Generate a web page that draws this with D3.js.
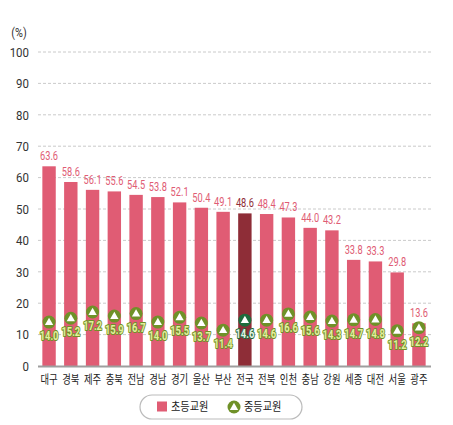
<!DOCTYPE html>
<html><head><meta charset="utf-8">
<script src="https://cdn.jsdelivr.net/npm/d3@7"></script>
<style>
body{margin:0;background:#fff;}
svg{display:block;}
text{font-family:"Noto Sans CJK KR","Noto Sans",sans-serif;}
.num{font-family:"Roboto","Noto Sans",sans-serif;}
</style></head>
<body>
<svg id="c" width="453" height="425"></svg>
<script>
const categories = ["대구","경북","제주","충북","전남","경남","경기","울산","부산","전국","전북","인천","충남","강원","세종","대전","서울","광주"];
const elementary = [63.6,58.6,56.1,55.6,54.5,53.8,52.1,50.4,49.1,48.6,48.4,47.3,44.0,43.2,33.8,33.3,29.8,13.6];
const secondary = [14.0,15.2,17.2,15.9,16.7,14.0,15.5,13.7,11.4,14.6,14.6,16.6,15.6,14.3,14.7,14.8,11.2,12.2];
const yTicks = [0,10,20,30,40,50,60,70,80,90,100];
const seriesNames = ["초등교원","중등교원"];
const highlight = "전국";

const svg = d3.select("#c");
const x = d3.scaleBand().domain(categories).range([38,430]).paddingInner(0.384).paddingOuter(0.2);
const y = d3.scaleLinear().domain([0,100]).range([366,52]);
const cx = d => x(d) + x.bandwidth()/2;

// gridlines
svg.append("g").selectAll("line").data(yTicks.filter(d=>d>0)).join("line")
  .attr("x1",38).attr("x2",431).attr("y1",d=>y(d)).attr("y2",d=>y(d))
  .attr("stroke","#bdbdbd").attr("stroke-width",0.8).attr("stroke-dasharray","3,2");

// y labels
svg.append("g").selectAll("text").data(yTicks).join("text").attr("class","num")
  .attr("transform",d=>`translate(29,${y(d)}) scale(0.85,1)`)
  .attr("dy","0.35em").attr("text-anchor","end")
  .attr("font-size",13.5).attr("fill","#333").text(d=>d);
svg.append("text").attr("class","num").attr("transform","translate(19,33) scale(0.9,1)").attr("dy","0.35em").attr("text-anchor","middle")
  .attr("font-size",12).attr("fill","#333").text("(%)");

// bars
svg.append("g").selectAll("rect").data(categories).join("rect")
  .attr("x",d=>x(d)).attr("width",x.bandwidth())
  .attr("y",(d,i)=>y(elementary[i])).attr("height",(d,i)=>y(0)-y(elementary[i]))
  .attr("fill",d=>d===highlight?"#8e2d37":"#e05c74");

// baseline
svg.append("line").attr("x1",38).attr("x2",431).attr("y1",y(0)+0.5).attr("y2",y(0)+0.5)
  .attr("stroke","#9e9e9e").attr("stroke-width",2);

// bar labels
svg.append("g").selectAll("text").data(categories).join("text").attr("class","num")
  .attr("transform",(d,i)=>`translate(${cx(d)},${y(elementary[i])-6}) scale(0.74,1)`)
  .attr("text-anchor","middle").attr("font-size",12.5)
  .attr("fill",d=>d===highlight?"#8e2d37":"#e05c74")
  .text((d,i)=>elementary[i].toFixed(1));

// markers
const mk = svg.append("g").selectAll("g").data(categories).join("g")
  .attr("transform",(d,i)=>`translate(${cx(d)},${y(secondary[i])})`);
mk.append("circle").attr("r",6.5).attr("fill",d=>d===highlight?"#1e6b3c":"#6f9128");
mk.append("path").attr("d",d3.symbol(d3.symbolTriangle,30)()).attr("transform","translate(0,0.5)").attr("fill","#fff");

// marker labels
svg.append("g").selectAll("text").data(categories).join("text").attr("class","num")
  .attr("transform",(d,i)=>`translate(${cx(d)},${y(secondary[i])+18}) scale(0.72,1)`)
  .attr("text-anchor","middle").attr("font-size",13).attr("font-weight","bold")
  .attr("fill",d=>d===highlight?"#e4f1e6":"#e3ee9e")
  .attr("stroke",d=>d===highlight?"#1e6b3c":"#6f9128").attr("stroke-width",2.2)
  .attr("paint-order","stroke").attr("stroke-linejoin","round")
  .text((d,i)=>secondary[i].toFixed(1));

// x labels
svg.append("g").selectAll("text").data(categories).join("text")
  .attr("transform",d=>`translate(${cx(d)},380) scale(0.78,1)`).attr("dy","0.35em")
  .attr("text-anchor","middle").attr("font-size",12).attr("fill","#222").text(d=>d);

// legend
const lg = svg.append("g");
lg.append("rect").attr("x",140).attr("y",395).attr("width",162).attr("height",24).attr("rx",12)
  .attr("fill","#fff").attr("stroke","#bbb").attr("stroke-width",1.2);
lg.append("rect").attr("x",157).attr("y",401.5).attr("width",10).attr("height",10).attr("fill","#e05c74");
lg.append("text").attr("transform","translate(171,407) scale(0.85,1)").attr("dy","0.35em").attr("font-size",12).attr("fill","#222").text(seriesNames[0]);
lg.append("circle").attr("cx",234).attr("cy",407).attr("r",6.5).attr("fill","#6f9128");
lg.append("path").attr("d",d3.symbol(d3.symbolTriangle,30)()).attr("transform","translate(234,407.5)").attr("fill","#fff");
lg.append("text").attr("transform","translate(244,407) scale(0.85,1)").attr("dy","0.35em").attr("font-size",12).attr("fill","#222").text(seriesNames[1]);
</script>
</body></html>
